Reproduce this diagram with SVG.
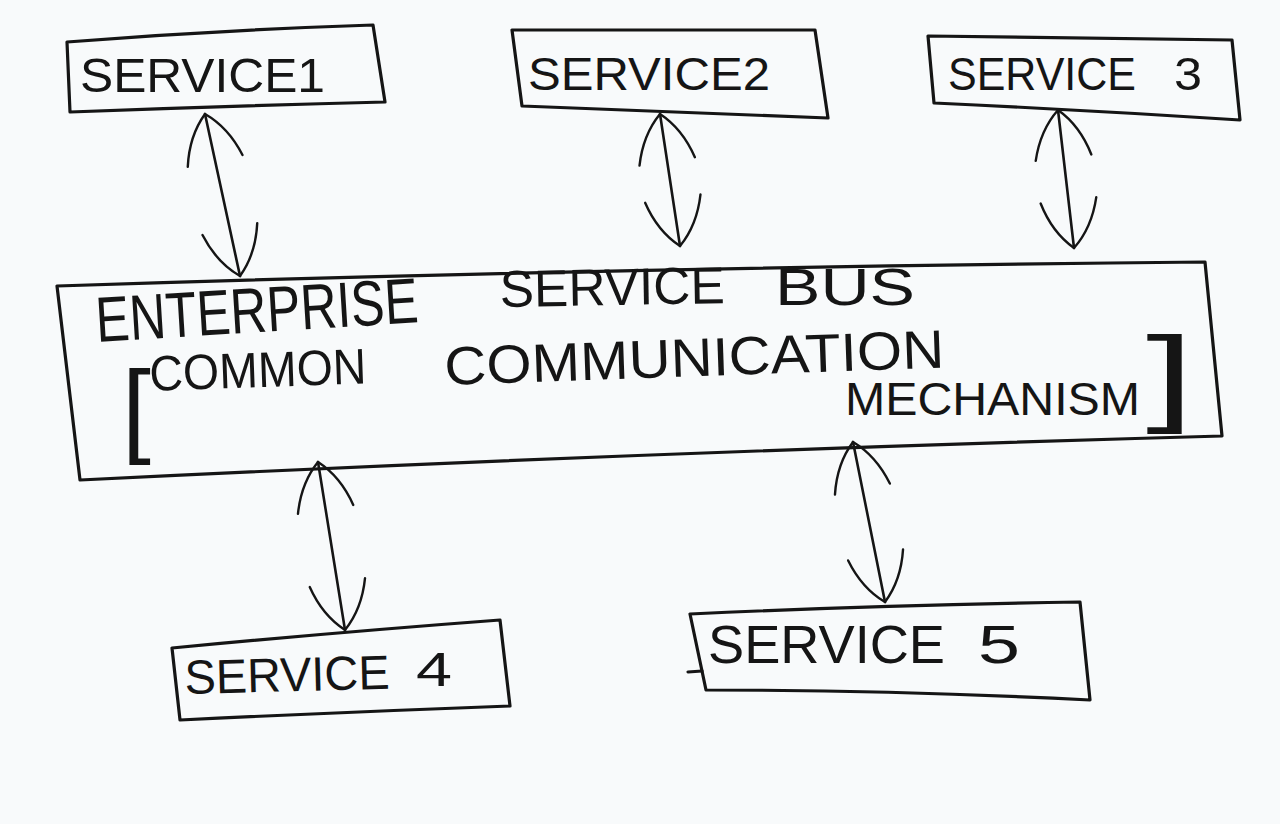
<svg xmlns="http://www.w3.org/2000/svg" width="1280" height="824" viewBox="0 0 1280 824">
<style>
.box{fill:none;stroke:#151515;stroke-width:3.2;stroke-linejoin:round;stroke-linecap:round}
.lbl{font-family:"Liberation Sans","DejaVu Sans",sans-serif;fill:#151515;font-weight:normal}
.con{fill:none;stroke:#151515;stroke-width:2.6;stroke-linecap:round}
</style>
<defs>
<marker id="ah" viewBox="0 0 60 64" refX="58" refY="32" markerWidth="60" markerHeight="64" markerUnits="userSpaceOnUse" orient="auto-start-reverse">
<path d="M10 4 Q40 12 58 32 Q40 52 10 60" fill="none" stroke="#151515" stroke-width="2.4" stroke-linecap="round"/>
</marker>
</defs>
<rect width="1280" height="824" fill="#f8fafb"/>
<g id="connectors">
<path class="con" d="M205 114 L240 276" marker-start="url(#ah)" marker-end="url(#ah)"/>
<path class="con" d="M660 114 L680 246" marker-start="url(#ah)" marker-end="url(#ah)"/>
<path class="con" d="M1058 110 L1074 248" marker-start="url(#ah)" marker-end="url(#ah)"/>
<path class="con" d="M318 462 L345 630" marker-start="url(#ah)" marker-end="url(#ah)"/>
<path class="con" d="M853 442 L885 602" marker-start="url(#ah)" marker-end="url(#ah)"/>
</g>
<g id="service1">
<path class="box" d="M67 42 Q220 30 373 25 L385 102 Q230 106 70 112 Z"/>
<text class="lbl" x="80" y="92" font-size="48" textLength="245" lengthAdjust="spacingAndGlyphs">SERVICE1</text>
</g>
<g id="service2">
<path class="box" d="M512 30 L815 30 L828 118 Q670 112 522 106 Z"/>
<text class="lbl" x="528" y="90" font-size="46" textLength="242" lengthAdjust="spacingAndGlyphs">SERVICE2</text>
</g>
<g id="service3">
<path class="box" d="M928 36 Q1080 38 1232 40 L1240 120 Q1085 110 934 103 Z"/>
<text class="lbl" x="948" y="90" font-size="46" textLength="188" lengthAdjust="spacingAndGlyphs">SERVICE</text>
<text class="lbl" x="1174" y="90" font-size="46" textLength="28" lengthAdjust="spacingAndGlyphs">3</text>
</g>
<g id="bus">
<path class="box" d="M57 286 Q600 268 1205 262 L1222 436 Q650 452 80 480 Z"/>
<text class="lbl" x="97" y="342" font-size="64" textLength="323" lengthAdjust="spacingAndGlyphs" transform="rotate(-3.5 97 342)">ENTERPRISE</text>
<text class="lbl" x="500" y="307" font-size="52" textLength="225" lengthAdjust="spacingAndGlyphs" transform="rotate(-1 500 307)">SERVICE</text>
<text class="lbl" x="775" y="305" font-size="52" textLength="140" lengthAdjust="spacingAndGlyphs">BUS</text>
<text class="lbl" x="122" y="443" font-size="104" font-weight="bold">[</text>
<text class="lbl" x="150" y="391" font-size="50" textLength="217" lengthAdjust="spacingAndGlyphs" transform="rotate(-2 150 391)">COMMON</text>
<text class="lbl" x="445" y="385" font-size="54" textLength="500" lengthAdjust="spacingAndGlyphs" transform="rotate(-2 445 385)">COMMUNICATION</text>
<text class="lbl" x="845" y="415" font-size="46" textLength="295" lengthAdjust="spacingAndGlyphs">MECHANISM</text>
<text class="lbl" x="1146" y="412" font-size="108" font-weight="bold" textLength="48" lengthAdjust="spacingAndGlyphs">]</text>
</g>
<g id="service4">
<path class="box" d="M172 648 Q340 632 500 620 L510 706 Q345 712 180 720 Z"/>
<text class="lbl" x="185" y="694" font-size="48" textLength="205" lengthAdjust="spacingAndGlyphs" transform="rotate(-1.5 185 694)">SERVICE</text>
<text class="lbl" x="416" y="686" font-size="48" textLength="36" lengthAdjust="spacingAndGlyphs">4</text>
</g>
<g id="service5">
<path class="box" d="M690 614 Q880 605 1080 602 L1090 700 Q890 690 706 690 Z"/>
<path class="box" d="M688 672 L702 671"/>
<text class="lbl" x="708" y="663" font-size="54" textLength="237" lengthAdjust="spacingAndGlyphs">SERVICE</text>
<text class="lbl" x="978" y="663" font-size="54" textLength="42" lengthAdjust="spacingAndGlyphs">5</text>
</g>
</svg>
